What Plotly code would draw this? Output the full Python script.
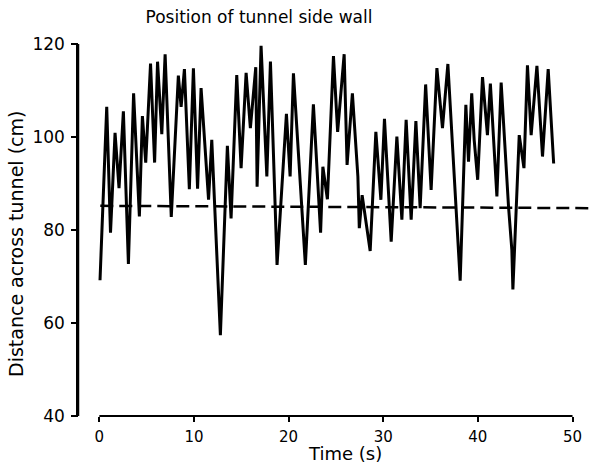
import plotly.graph_objects as go

# Wall position trace (time in s, distance in cm)
time_s = [0.07, 0.78, 1.18, 1.66, 2.08, 2.54, 3.07, 3.62, 4.23, 4.55, 4.90, 5.41,
          5.84, 6.15, 6.60, 6.95, 7.60, 8.35, 8.64, 8.99, 9.51, 9.94, 10.38, 10.75,
          11.54, 11.88, 12.79, 13.53, 13.92, 14.52, 14.98, 15.51, 15.96, 16.53, 16.67,
          17.09, 17.70, 18.08, 18.78, 19.77, 20.16, 20.51, 21.77, 22.62, 23.38, 23.62,
          24.10, 24.74, 25.18, 25.87, 26.18, 26.74, 27.32, 27.47, 27.77, 28.62, 29.22,
          29.75, 30.13, 30.84, 31.44, 31.97, 32.42, 32.95, 33.45, 33.90, 34.48, 35.06,
          35.67, 36.26, 36.83, 38.13, 38.73, 39.01, 39.35, 39.61, 39.98, 40.49, 41.01,
          41.32, 42.01, 42.46, 43.24, 43.59, 43.70, 44.37, 44.87, 45.24, 45.63, 46.24,
          46.83, 47.43, 48.01]
distance_cm = [69.2, 106.5, 79.4, 100.9, 89.0, 105.5, 72.7, 109.4, 82.9, 104.5, 94.5, 115.8,
               94.5, 116.2, 100.6, 117.8, 82.8, 113.2, 106.5, 114.6, 88.8, 114.8, 88.9, 110.5,
               86.5, 99.4, 57.4, 98.1, 82.5, 113.3, 93.3, 113.8, 101.9, 115.0, 89.3,
               119.6, 91.5, 116.2, 72.5, 105.0, 91.5, 113.7, 72.5, 107.0, 79.4, 93.6,
               86.6, 117.4, 101.1, 117.8, 94.0, 109.4, 91.5, 80.4, 87.5, 75.5, 101.1,
               86.5, 103.9, 77.5, 100.1, 82.2, 103.7, 82.2, 103.4, 84.7, 111.3, 88.6,
               114.8, 101.9, 115.7, 69.1, 106.9, 94.7, 109.4, 99.4, 90.8, 112.9, 100.4,
               111.5, 87.2, 111.7, 85.0, 75.7, 67.2, 100.4, 93.3, 115.4, 100.4, 115.3,
               95.8, 114.6, 94.3]

# Reference (dashed) line
ref_time_s = [0.1, 52.0]
ref_distance_cm = [85.2, 84.7]

x_ticks = [0, 10, 20, 30, 40, 50]
y_ticks = [40, 60, 80, 100, 120]
Y_RANGE = [y_ticks[0], y_ticks[-1]]

FONT = "DejaVu Sans"
PLOT_W = 604 - 79 - 12

fig = go.Figure()
fig.add_trace(go.Scatter(x=ref_time_s, y=ref_distance_cm, mode="lines",
                         line=dict(color="black", width=2.5, dash="13px,6px"),
                         hoverinfo="skip", showlegend=False))
fig.add_trace(go.Scatter(x=time_s, y=distance_cm, mode="lines",
                         line=dict(color="black", width=3),
                         showlegend=False))

# Axis lines as decorations: x axis spans 0..50 only; y axis line at plot's left edge
shapes = [
    dict(type="line", xref="x", yref="paper", x0=x_ticks[0], x1=x_ticks[-1],
         y0=0, y1=0, line=dict(color="black", width=2)),
    dict(type="line", xref="paper", yref="paper", x0=-1/PLOT_W, x1=-1/PLOT_W,
         y0=0, y1=1, line=dict(color="black", width=2.5), layer="above"),
]
for yv in y_ticks:
    frac = (yv - Y_RANGE[0]) / (Y_RANGE[1] - Y_RANGE[0])
    shapes.append(dict(type="line", xref="paper", yref="paper", x0=-6/PLOT_W, x1=-1/PLOT_W,
                       y0=frac, y1=frac, line=dict(color="black", width=2), layer="above"))

fig.update_layout(
    width=604, height=463,
    margin=dict(l=79, r=12, t=44, b=47),
    paper_bgcolor="white", plot_bgcolor="rgba(0,0,0,0)",
    title=dict(text="Position of tunnel side wall", x=259/604, xanchor="center",
               y=1 - 17/463, yanchor="middle",
               font=dict(family=FONT, size=17, color="black")),
    xaxis=dict(range=[-2.15, 52.06], tickvals=x_ticks, ticktext=[str(v) for v in x_ticks],
               showline=False, showgrid=False, zeroline=False,
               ticks="outside", ticklen=5, tickwidth=2, tickcolor="black",
               ticklabelstandoff=2,
               tickfont=dict(family=FONT, size=15, color="black")),
    yaxis=dict(range=Y_RANGE, tickvals=y_ticks, ticktext=[str(v) for v in y_ticks],
               showline=True, linecolor="black", linewidth=2.5,
               showgrid=False, zeroline=False,
               ticks="outside", ticklen=5, tickwidth=2, tickcolor="black",
               ticklabelstandoff=3,
               tickfont=dict(family=FONT, size=17, color="black")),
    shapes=shapes,
    annotations=[
        dict(text="Time (s)", xref="paper", yref="paper", x=(345-79)/513, y=(416-454)/372,
             xanchor="center", yanchor="middle", showarrow=False,
             font=dict(family=FONT, size=18, color="black")),
        dict(text="Distance across tunnel (cm)", xref="paper", yref="paper",
             x=(16-79)/513, y=(416-244)/372, textangle=-90,
             xanchor="center", yanchor="middle", showarrow=False,
             font=dict(family=FONT, size=19, color="black")),
    ],
)

fig.write_html("out.html")
